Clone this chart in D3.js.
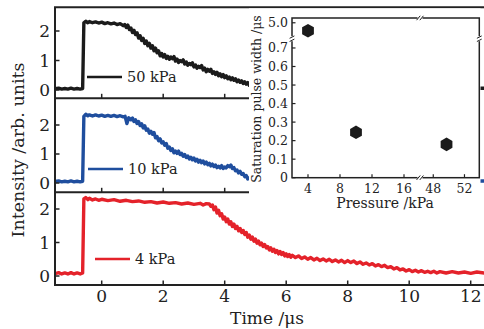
<!DOCTYPE html>
<html>
<head>
<meta charset="utf-8">
<script src="https://cdn.jsdelivr.net/npm/d3@7/dist/d3.min.js"></script>
<style>
  body { margin: 0; background: #fff; }
  svg { display: block; }
  text { font-family: "DejaVu Serif", serif; fill: #222; }
</style>
</head>
<body>
<div id="chart"></div>
<script>
// Time traces: [time in µs, intensity]
const trace50kPa = [
  [-1.52,0.04],[-1.4,0.06],[-1.3,0.03],[-1.2,0.05],[-1.1,0.03],[-1.0,0.06],[-0.9,0.03],[-0.8,0.05],[-0.7,0.03],[-0.62,0.05],
  [-0.58,2.28],[-0.52,2.33],[-0.45,2.28],[-0.4,2.32],[-0.3,2.28],[-0.2,2.31],[-0.1,2.27],[0,2.3],[0.1,2.25],[0.2,2.28],
  [0.3,2.24],[0.4,2.27],[0.5,2.22],[0.6,2.25],[0.7,2.18],[0.75,2.22],
  [0.8,2.12],[0.85,2.2],[0.9,2.05],[0.95,2.1],[1.0,1.95],[1.05,2.02],[1.1,1.88],[1.15,1.94],[1.2,1.76],[1.25,1.84],
  [1.3,1.68],[1.35,1.75],[1.4,1.58],[1.45,1.66],[1.5,1.5],[1.55,1.58],[1.6,1.42],[1.65,1.5],[1.7,1.33],[1.75,1.42],
  [1.8,1.26],[1.85,1.33],[1.9,1.16],[1.95,1.24],[2.0,1.12],[2.05,1.2],[2.1,1.07],[2.15,1.14],[2.2,1.04],[2.25,1.12],
  [2.3,1.06],[2.35,1.13],[2.4,0.98],[2.45,1.05],[2.5,0.93],[2.55,1.0],[2.6,0.96],[2.65,1.02],[2.7,0.88],[2.75,0.95],
  [2.8,0.84],[2.85,0.9],[2.9,0.86],[2.95,0.92],[3.0,0.78],[3.05,0.85],[3.1,0.74],[3.15,0.8],[3.2,0.76],[3.25,0.83],
  [3.3,0.68],[3.35,0.74],[3.4,0.62],[3.45,0.7],[3.5,0.64],[3.55,0.7],[3.6,0.56],[3.65,0.62],[3.7,0.53],[3.75,0.6],
  [3.8,0.48],[3.85,0.55],[3.9,0.45],[3.95,0.52],[4.0,0.42],[4.05,0.48],[4.1,0.38],[4.15,0.44],[4.2,0.35],[4.25,0.41],
  [4.3,0.33],[4.35,0.38],[4.4,0.28],[4.45,0.34],[4.5,0.26],[4.55,0.31],[4.6,0.22],[4.65,0.28],[4.7,0.2],[4.75,0.25],
  [4.8,0.16],[4.85,0.21],[5.0,0.15],[6.0,0.1],[8.0,0.07],[10.0,0.05],[12.45,0.06]
];
const trace10kPa = [
  [-1.52,0.05],[-1.4,0.07],[-1.3,0.04],[-1.2,0.06],[-1.1,0.04],[-1.0,0.07],[-0.9,0.04],[-0.8,0.06],[-0.7,0.04],[-0.62,0.06],
  [-0.58,2.3],[-0.52,2.37],[-0.45,2.32],[-0.4,2.35],[-0.3,2.31],[-0.2,2.35],[-0.1,2.31],[0,2.34],[0.1,2.3],[0.2,2.33],
  [0.3,2.3],[0.4,2.33],[0.5,2.29],[0.6,2.32],[0.7,2.28],[0.76,2.3],[0.82,2.05],[0.88,2.25],
  [0.95,2.18],[1.0,2.24],[1.05,2.12],[1.1,2.18],[1.15,2.05],[1.2,2.12],[1.25,1.98],[1.3,2.04],[1.35,1.9],[1.4,1.97],
  [1.45,1.82],[1.5,1.86],[1.55,1.72],[1.6,1.78],[1.65,1.68],[1.7,1.74],[1.75,1.56],[1.8,1.6],[1.85,1.46],[1.9,1.52],
  [1.95,1.38],[2.0,1.42],[2.05,1.3],[2.1,1.36],[2.15,1.2],[2.2,1.24],[2.25,1.12],[2.3,1.18],[2.35,1.04],[2.4,1.1],
  [2.45,1.02],[2.5,1.1],[2.55,0.98],[2.6,1.02],[2.65,0.92],[2.7,0.98],[2.75,0.88],[2.8,0.93],[2.85,0.83],[2.9,0.89],
  [2.95,0.8],[3.0,0.86],[3.05,0.76],[3.1,0.82],[3.15,0.72],[3.2,0.78],[3.25,0.7],[3.3,0.76],[3.35,0.66],[3.4,0.72],
  [3.45,0.63],[3.5,0.68],[3.55,0.59],[3.6,0.65],[3.65,0.57],[3.7,0.62],[3.75,0.53],[3.8,0.58],[3.85,0.52],[3.9,0.6],
  [3.95,0.5],[4.0,0.55],[4.05,0.52],[4.1,0.6],[4.15,0.56],[4.2,0.62],[4.25,0.5],[4.3,0.53],[4.35,0.42],[4.4,0.45],
  [4.45,0.35],[4.5,0.4],[4.55,0.3],[4.6,0.33],[4.65,0.22],[4.7,0.26],[4.75,0.14],[4.8,0.18],[4.85,0.1],[4.9,0.15],
  [5.2,0.1],[6.0,0.08],[8.0,0.06],[10.0,0.05],[12.45,0.07]
];
const trace4kPa = [
  [-1.52,0.07],[-1.4,0.1],[-1.3,0.06],[-1.2,0.09],[-1.1,0.06],[-1.0,0.1],[-0.9,0.06],[-0.8,0.09],[-0.7,0.06],[-0.62,0.09],
  [-0.58,2.3],[-0.52,2.34],[-0.45,2.28],[-0.4,2.32],[-0.3,2.27],[-0.2,2.3],[-0.1,2.26],[0,2.29],[0.2,2.25],[0.4,2.28],
  [0.6,2.23],[0.8,2.26],[1.0,2.22],[1.2,2.24],[1.4,2.2],[1.6,2.22],[1.8,2.18],[2.0,2.21],[2.2,2.17],[2.4,2.19],
  [2.6,2.15],[2.8,2.18],[3.0,2.14],[3.2,2.17],[3.3,2.12],[3.4,2.16],
  [3.5,2.15],[3.55,2.08],[3.6,2.12],[3.65,1.98],[3.7,2.06],[3.75,1.88],[3.8,1.96],[3.85,1.8],[3.9,1.86],[3.95,1.7],
  [4.0,1.76],[4.05,1.62],[4.1,1.7],[4.15,1.55],[4.2,1.62],[4.25,1.48],[4.3,1.55],[4.35,1.42],[4.4,1.48],[4.45,1.35],
  [4.5,1.42],[4.55,1.3],[4.6,1.36],[4.65,1.24],[4.7,1.3],[4.75,1.16],[4.8,1.22],[4.85,1.1],[4.9,1.16],[4.95,1.04],
  [5.0,1.1],[5.05,0.98],[5.1,1.04],[5.15,0.93],[5.2,0.98],[5.25,0.88],[5.3,0.94],[5.35,0.84],[5.4,0.88],[5.45,0.78],
  [5.5,0.84],[5.55,0.74],[5.6,0.8],[5.65,0.7],[5.7,0.76],[5.75,0.66],[5.8,0.73],[5.85,0.64],[5.9,0.7],[5.95,0.6],
  [6.0,0.66],[6.05,0.58],[6.1,0.64],[6.15,0.56],[6.2,0.62],[6.3,0.55],[6.4,0.6],[6.5,0.52],[6.6,0.57],[6.7,0.5],
  [6.8,0.55],[6.9,0.48],[7.0,0.53],[7.1,0.46],[7.2,0.51],[7.3,0.45],[7.4,0.5],[7.5,0.43],[7.6,0.48],[7.7,0.42],
  [7.8,0.47],[7.9,0.4],[8.0,0.46],[8.1,0.4],[8.2,0.45],[8.3,0.37],[8.4,0.42],[8.5,0.35],[8.6,0.39],[8.7,0.33],
  [8.8,0.37],[8.9,0.3],[9.0,0.34],[9.1,0.28],[9.2,0.32],[9.3,0.25],[9.4,0.28],[9.5,0.21],[9.6,0.25],[9.7,0.18],
  [9.8,0.21],[9.9,0.15],[10.0,0.19],[10.1,0.13],[10.2,0.17],[10.3,0.12],[10.4,0.16],[10.5,0.11],[10.6,0.14],[10.7,0.1],
  [10.8,0.14],[10.9,0.09],[11.0,0.13],[11.2,0.09],[11.4,0.13],[11.6,0.09],[11.8,0.12],[12.0,0.08],[12.2,0.12],[12.45,0.09]
];
const panelNames = ["50 kPa", "10 kPa", "4 kPa"];
const panelColors = ["#1b1b1b", "#1f4e9e", "#e4222a"];
const timeTicks = [0, 2, 4, 6, 8, 10, 12];
const intensityTicks = [0, 1, 2];

// Inset: saturation pulse width vs pressure
const insetPressure = [4, 10, 49.7];
const insetWidth = [4.75, 0.245, 0.18];
const pressureTicksLow = [4, 8, 12, 16];
const pressureTicksHigh = [48, 52];
const widthTicksLow = [0, 0.1, 0.2, 0.3, 0.4, 0.5, 0.6, 0.7];
const widthTicksHigh = [5.0];

const W = 484, H = 329;
const svg = d3.select("#chart").append("svg").attr("width", W).attr("height", H);

const left = 55, right = 486;
const x = d3.scaleLinear().domain([0, 12]).range([101.7, 470.7]);

// panel layout: top, bottom, pixel of 0 and of 2
const panels = [
  {top: 7.3, bottom: 98.3, y0: 90, y2: 31, data: trace50kPa},
  {top: 98.3, bottom: 192.3, y0: 183, y2: 125, data: trace10kPa},
  {top: 192.3, bottom: 285, y0: 276, y2: 209, data: trace4kPa}
];
const legendPos = [{x: 87, y: 77}, {x: 88, y: 169}, {x: 95, y: 259}];

panels.forEach(function(p, i) {
  const y = d3.scaleLinear().domain([0, 2]).range([p.y0, p.y2]);
  svg.append("clipPath").attr("id", "clip" + i)
    .append("rect").attr("x", left).attr("y", p.top).attr("width", right - left).attr("height", p.bottom - p.top);

  const line = d3.line().x(d => x(d[0])).y(d => y(d[1]));
  svg.append("path")
    .datum(p.data)
    .attr("clip-path", "url(#clip" + i + ")")
    .attr("fill", "none")
    .attr("stroke", panelColors[i])
    .attr("stroke-width", 3.4)
    .attr("stroke-linejoin", "round")
    .attr("d", line);

  // x ticks pointing up from the panel bottom
  const g = svg.append("g");
  g.selectAll(".xt").data(timeTicks).enter().append("line")
    .attr("x1", d => x(d)).attr("x2", d => x(d))
    .attr("y1", p.bottom).attr("y2", p.bottom - 4.5)
    .attr("stroke", "#222").attr("stroke-width", 1.5);
  // y ticks
  g.selectAll(".yt").data(intensityTicks).enter().append("line")
    .attr("x1", left).attr("x2", left + 4.5)
    .attr("y1", d => y(d)).attr("y2", d => y(d))
    .attr("stroke", "#222").attr("stroke-width", 1.5);
  g.selectAll(".yl").data(intensityTicks).enter().append("text")
    .attr("x", 50).attr("y", d => y(d)).attr("dy", "0.36em")
    .attr("text-anchor", "end").style("font-size", "17px")
    .text(d => d);

  // legend
  const lp = legendPos[i];
  svg.append("line").attr("x1", lp.x).attr("x2", lp.x + 35).attr("y1", lp.y).attr("y2", lp.y)
    .attr("stroke", panelColors[i]).attr("stroke-width", 2.6);
  svg.append("text").attr("x", lp.x + 40).attr("y", lp.y).attr("dy", "0.35em")
    .style("font-size", "14.5px").text(panelNames[i]);
});

// frame: outer box and the two panel dividers (dividers stop under the inset)
const frame = svg.append("g").attr("stroke", "#222").attr("stroke-width", 2);
frame.append("line").attr("x1", left).attr("x2", left).attr("y1", 7.3).attr("y2", 285);
frame.append("line").attr("x1", left - 1).attr("x2", right).attr("y1", 7.3).attr("y2", 7.3);
frame.append("line").attr("x1", left - 1).attr("x2", right).attr("y1", 285).attr("y2", 285);
[98.3, 192.3].forEach(yy => frame.append("line").attr("x1", left).attr("x2", 252).attr("y1", yy).attr("y2", yy));

// bottom x tick labels
svg.selectAll(".xl").data(timeTicks).enter().append("text")
  .attr("x", d => x(d)).attr("y", 302).attr("text-anchor", "middle")
  .style("font-size", "17px").text(d => d);

svg.append("text").attr("x", 267).attr("y", 324).attr("text-anchor", "middle")
  .style("font-size", "17px").text("Time /μs");
svg.append("text").attr("transform", "translate(24,150) rotate(-90)").attr("text-anchor", "middle")
  .style("font-size", "17.5px").text("Intensity /arb. units");

// ---- inset ----
svg.append("rect").attr("x", 249).attr("y", 8.4).attr("width", 231.5).attr("height", 200).attr("fill", "#fff");

const ix0 = 292, ix1 = 479.3, iy0 = 18, iy1 = 177.7, xBreak = 420, yBreak = 38.7;
const pxLow = d3.scaleLinear().domain([2, 18]).range([ix0, xBreak]);
const pxHigh = d3.scaleLinear().domain([46.3, 53.9]).range([xBreak, ix1]);
const wyLow = d3.scaleLinear().domain([0, 0.75]).range([iy1, yBreak]);
const wyHigh = d3.scaleLinear().domain([4.5, 5.15]).range([yBreak, iy0]);
const px = p => p < 30 ? pxLow(p) : pxHigh(p);
const wy = w => w < 1 ? wyLow(w) : wyHigh(w);

const inset = svg.append("g");
inset.append("rect").attr("x", ix0).attr("y", iy0).attr("width", ix1 - ix0).attr("height", iy1 - iy0)
  .attr("fill", "none").attr("stroke", "#222").attr("stroke-width", 1.5);

const pTicks = pressureTicksLow.concat(pressureTicksHigh);
inset.selectAll(".pt").data(pTicks).enter().append("line")
  .attr("x1", d => px(d)).attr("x2", d => px(d)).attr("y1", iy1).attr("y2", iy1 - 3.5)
  .attr("stroke", "#222").attr("stroke-width", 1.2);
inset.selectAll(".pl").data(pTicks).enter().append("text")
  .attr("x", d => px(d)).attr("y", 193).attr("text-anchor", "middle")
  .style("font-size", "12.5px").text(d => d);

const wTicks = widthTicksLow.concat(widthTicksHigh);
inset.selectAll(".wt").data(wTicks).enter().append("line")
  .attr("x1", ix0).attr("x2", ix0 + 3.5).attr("y1", d => wy(d)).attr("y2", d => wy(d))
  .attr("stroke", "#222").attr("stroke-width", 1.2);
inset.selectAll(".wl").data(wTicks).enter().append("text")
  .attr("x", 288).attr("y", d => wy(d)).attr("dy", "0.36em").attr("text-anchor", "end")
  .style("font-size", "12.5px").text(d => d === 0 ? "0" : d.toFixed(1));

// axis breaks
function hBreak(cx, cy) {
  inset.append("rect").attr("x", cx - 2.5).attr("y", cy - 2).attr("width", 5).attr("height", 4).attr("fill", "#fff");
  [-1.6, 1.6].forEach(o => inset.append("line")
    .attr("x1", cx + o - 1.8).attr("y1", cy + 2.2).attr("x2", cx + o + 1.8).attr("y2", cy - 2.2)
    .attr("stroke", "#222").attr("stroke-width", 1));
}
function vBreak(cx, cy) {
  inset.append("rect").attr("x", cx - 2).attr("y", cy - 2.5).attr("width", 4).attr("height", 5).attr("fill", "#fff");
  [-1.6, 1.6].forEach(o => inset.append("line")
    .attr("x1", cx - 2.4).attr("y1", cy + o + 1.2).attr("x2", cx + 2.4).attr("y2", cy + o - 1.2)
    .attr("stroke", "#222").attr("stroke-width", 1));
}
hBreak(xBreak, iy1); hBreak(xBreak, iy0);
vBreak(ix0, yBreak); vBreak(ix1, yBreak);

// hexagon markers
const hexPath = (cx, cy, r) => "M" + d3.range(6).map(k => {
  const a = Math.PI / 3 * k + Math.PI / 6;
  return [cx + r * Math.cos(a), cy + r * Math.sin(a)].join(",");
}).join("L") + "Z";
inset.selectAll(".pt2").data(insetPressure).enter().append("path")
  .attr("d", (d, i) => hexPath(px(d), wy(insetWidth[i]), 6.8))
  .attr("fill", "#1b1b1b");

inset.append("text").attr("x", 385).attr("y", 208).attr("text-anchor", "middle")
  .style("font-size", "14px").text("Pressure /kPa");
inset.append("text").attr("transform", "translate(261,99) rotate(-90)").attr("text-anchor", "middle")
  .style("font-size", "12.5px").text("Saturation pulse width /μs");
</script>
</body>
</html>
